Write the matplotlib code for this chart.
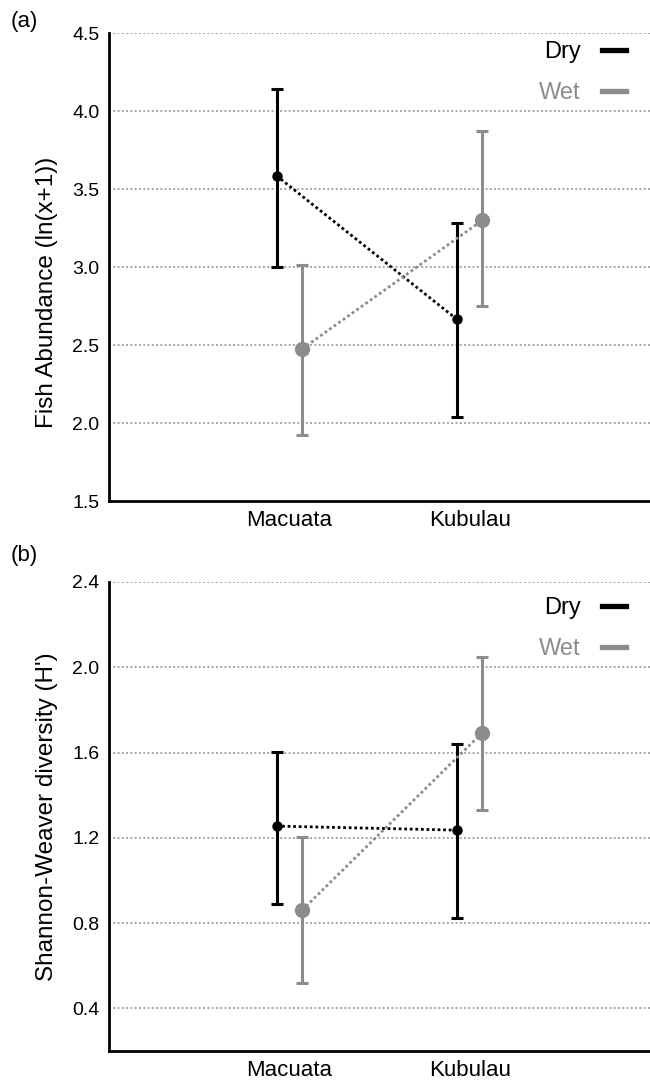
import matplotlib
matplotlib.use("Agg")
import matplotlib.pyplot as plt
from matplotlib.lines import Line2D
import numpy as np

plt.rcParams['font.family'] = ['Liberation Sans', 'DejaVu Sans']

categories = ['Macuata', 'Kubulau']
seasons = ['Dry', 'Wet']

# Panel (a): Fish abundance ln(x+1)
abund_dry_mean = [3.585, 2.665]
abund_dry_low = [3.00, 2.04]
abund_dry_high = [4.14, 3.28]
abund_wet_mean = [2.475, 3.30]
abund_wet_low = [1.92, 2.75]
abund_wet_high = [3.01, 3.87]

# Panel (b): Shannon-Weaver diversity
div_dry_mean = [1.255, 1.236]
div_dry_low = [0.889, 0.822]
div_dry_high = [1.603, 1.639]
div_wet_mean = [0.861, 1.694]
div_wet_low = [0.517, 1.33]
div_wet_high = [1.205, 2.049]

abund_ticks = [1.5, 2.0, 2.5, 3.0, 3.5, 4.0, 4.5]
div_ticks = [0.4, 0.8, 1.2, 1.6, 2.0, 2.4]

DRY = '#000000'
WET = '#8c8c8c'
GRID = '#a6a6a6'

fig = plt.figure(figsize=(6.5, 10.82), dpi=100)
W, H = 650, 1082

def px_axes(left, top, right, bottom):
    return fig.add_axes([left / W, 1 - bottom / H, (right - left) / W, (bottom - top) / H])

axA = px_axes(109, 33, 650, 501)
axB = px_axes(109, 582, 650, 1051)

def draw(ax, dmean, dlow, dhigh, wmean, wlow, whigh, ylim, ticks, ylabel,
         label_y, legend_y):
    x = np.arange(len(categories))
    off = 0.071
    for xs, m, lo, hi, col, ms in [
        (x - off, dmean, dlow, dhigh, DRY, 7.5),
        (x + off, wmean, wlow, whigh, WET, 11),
    ]:
        m = np.array(m); lo = np.array(lo); hi = np.array(hi)
        ax.errorbar(xs, m, yerr=[m - lo, hi - m], fmt='none', ecolor=col,
                    elinewidth=2.2, capsize=4.5, capthick=2.2, zorder=3)
        ax.plot(xs, m, linestyle=(0, (1, 1)), color=col, linewidth=2.0, zorder=4)
        ax.plot(xs, m, 'o', color=col, markersize=ms, zorder=5, markeredgewidth=0)
    ax.set_xlim(-1.0, 2.0)
    ax.set_ylim(*ylim)
    ax.set_yticks(ticks)
    ax.set_yticklabels(['{:.1f}'.format(t) for t in ticks])
    ax.set_xticks(x)
    ax.set_xticklabels(categories, fontsize=16)
    for t in ticks:
        if t > ylim[0]:
            ax.axhline(t, color=GRID, linestyle=(0, (1, 1.2)), linewidth=1.4, zorder=1)
    ax.tick_params(axis='y', length=0, labelsize=14, pad=7)
    ax.tick_params(axis='x', length=0, pad=6.5)
    for s in ['top', 'right']:
        ax.spines[s].set_visible(False)
    for s in ['left', 'bottom']:
        ax.spines[s].set_linewidth(2.0)
        ax.spines[s].set_color('black')
    ax.set_ylabel(ylabel, fontsize=17.5)
    ax.yaxis.set_label_coords(-0.094, label_y)
    handles = [Line2D([0], [0], color=DRY, linewidth=3.8),
               Line2D([0], [0], color=WET, linewidth=3.8)]
    ax.legend(handles, seasons, loc='upper right', frameon=False,
              markerfirst=False, handlelength=1.0, handletextpad=0.93,
              labelspacing=0.8, fontsize=17, borderaxespad=0, borderpad=0,
              bbox_to_anchor=(0.9556, legend_y),
              labelcolor=[DRY, WET])

draw(axA, abund_dry_mean, abund_dry_low, abund_dry_high,
     abund_wet_mean, abund_wet_low, abund_wet_high,
     (1.5, 4.5), abund_ticks, 'Fish Abundance (ln(x+1))', 0.4466, 0.983)
draw(axB, div_dry_mean, div_dry_low, div_dry_high,
     div_wet_mean, div_wet_low, div_wet_high,
     (0.2, 2.4), div_ticks, "Shannon-Weaver diversity (H')", 0.5, 0.967)

fig.text(24 / W, 1 - 21 / H, '(a)', fontsize=16, ha='center', va='center')
fig.text(24 / W, 1 - 555 / H, '(b)', fontsize=16, ha='center', va='center')

fig.savefig('out.png', dpi=100)
